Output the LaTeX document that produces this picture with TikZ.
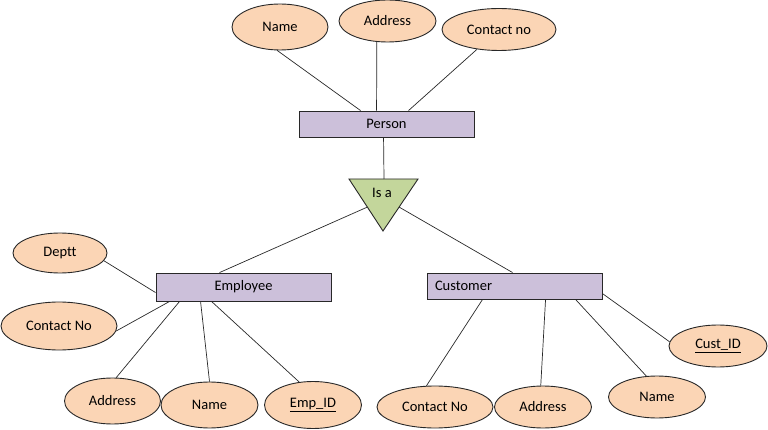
\documentclass[tikz,border=0pt]{standalone}
\usepackage{fontspec}
\setmainfont[Ligatures=NoCommon]{Carlito}
\usetikzlibrary{shapes.geometric,calc}
\definecolor{attrfill}{RGB}{251,213,181}
\definecolor{entfill}{RGB}{204,192,218}
\definecolor{isafill}{RGB}{195,214,155}
\definecolor{edge}{RGB}{40,40,40}
\begin{document}
\begin{tikzpicture}[x=1pt,y=-1pt,
  every node/.style={font=\fontsize{14.5}{17}\selectfont},
  attr/.style={ellipse,draw=edge,line width=0.9pt,fill=attrfill,inner sep=0pt,minimum width=96pt,minimum height=46pt},
  ent/.style={rectangle,draw=edge,line width=0.9pt,fill=entfill,inner sep=0pt,minimum width=175pt,minimum height=26pt},
  conn/.style={draw=edge,line width=0.7pt}]
\useasboundingbox (0,0) rectangle (768,430);
% entities
\node[ent] (person) at (386.5,124) {Person};
\node[ent,minimum height=28pt] (emp) at (243.5,287) {Employee};
\node[ent,text width=159pt,align=left,inner xsep=8pt] (cust) at (514.5,286) {Customer};
% isa triangle
\coordinate (tl) at (349,179);
\coordinate (tr) at (418,179);
\coordinate (tb) at (383,231);
\draw[edge,line width=0.9pt,fill=isafill] (tl) -- (tr) -- (tb) -- cycle;
\node (isa) at (382,193) {Is a};
% person attributes
\node[attr] (pname) at (280,27) {Name};
\node[attr,minimum height=42pt,minimum width=97pt] (paddr) at (387.5,21) {Address};
\node[attr,minimum width=114pt,minimum height=42pt] (pcont) at (499,29.5) {Contact no};
% employee attributes
\node[attr,minimum width=94pt,minimum height=40pt] (deptt) at (60,253) {Deptt};
\node[attr,minimum width=116pt,minimum height=48pt] (econt) at (59,326) {Contact No};
\node[attr] (eaddr) at (112.5,401) {Address};
\node[attr,minimum width=97pt] (ename) at (209.5,405) {Name};
\node[attr,minimum width=97pt,minimum height=47pt] (eid) at (313,405) {\underline{Emp\_ID}};
% customer attributes
\node[attr,minimum width=116pt,minimum height=42pt] (ccont) at (435,407) {Contact No};
\node[attr,minimum height=42pt,minimum width=97pt] (caddr) at (543,407) {Address};
\node[attr,minimum height=42pt,minimum width=97pt] (cname) at (657,397) {Name};
\node[attr,minimum height=42pt,minimum width=98pt] (cid) at (718,346) {\underline{Cust\_ID}};
% connectors: person
\draw[conn] (pname.-97) -- ([xshift=62pt]person.north west);
\draw[conn] (paddr.-117) -- ([xshift=78pt]person.north west);
\draw[conn] (pcont.-138) -- ([xshift=110pt]person.north west);
\draw[conn] ([xshift=85pt]person.south west) -- ($(tl)!0.5!(tr)+(0.5,0)$);
% isa to subtypes
\draw[conn] ($(tl)!0.54!(tb)$) -- ([xshift=64pt]emp.north west);
\draw[conn] ($(tr)!0.54!(tb)$) -- ([xshift=86pt]cust.north west);
% employee
\draw[conn] (deptt.-10) -- ([yshift=-20pt]emp.north west);
\draw[conn] (econt.-5) -- ([xshift=14pt]emp.south west);
\draw[conn] (eaddr.81) -- ([xshift=24pt]emp.south west);
\draw[conn] (ename.90) -- ([xshift=45pt]emp.south west);
\draw[conn] (eid.121) -- ([xshift=56pt]emp.south west);
% customer
\draw[conn] (ccont.112) -- ([xshift=56pt]cust.south west);
\draw[conn] (caddr.96) -- ([xshift=119pt]cust.south west);
\draw[conn] (cname.117) -- ([xshift=149pt]cust.south west);
\draw[conn] (cid.175) -- ([yshift=-21pt]cust.north east);
\end{tikzpicture}
\end{document}
